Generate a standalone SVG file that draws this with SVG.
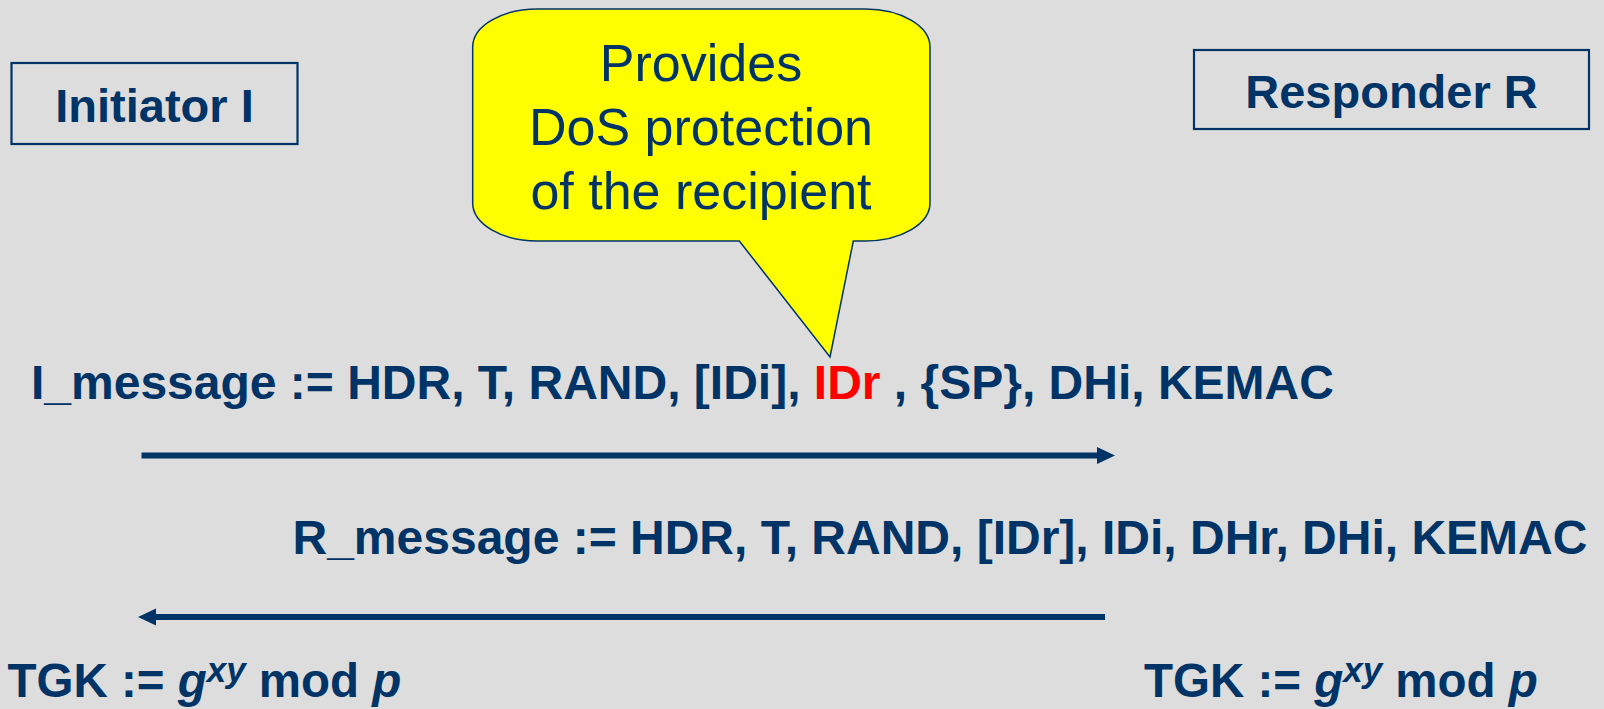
<svg xmlns="http://www.w3.org/2000/svg" width="1604" height="709" viewBox="0 0 1604 709">
<style>
.t{font-family:"Liberation Sans",Arial,sans-serif;font-weight:bold;fill:#003366}
.b{font-family:"Liberation Sans",Arial,sans-serif;fill:#003366;font-size:52px}
.box{fill:none;stroke:#003366;stroke-width:2.2}
.arr{stroke:#003366;stroke-width:6;fill:none}
</style>
<defs>
<marker id="ah" markerUnits="userSpaceOnUse" markerWidth="18" markerHeight="18" refX="8" refY="8.5" orient="auto">
<path d="M0,0 L18,8.5 L0,17 Z" fill="#003366"/>
</marker>
</defs>
<rect width="1604" height="709" fill="#DDDDDD"/>
<g id="initiator">
<rect class="box" x="11.5" y="63" width="286" height="81"/>
<text class="t" x="154.5" y="122" font-size="47" text-anchor="middle">Initiator I</text>
</g>
<g id="responder">
<rect class="box" x="1194" y="50" width="395" height="79"/>
<text class="t" x="1391.5" y="107.5" font-size="47" text-anchor="middle">Responder R</text>
</g>
<g id="callout">
<path d="M537.7,9 H865 A65,38 0 0 1 930,47 V203 A65,38 0 0 1 865,241 H853.3 L830,357 L739.3,241 H537.7 A65,38 0 0 1 472.7,203 V47 A65,38 0 0 1 537.7,9 Z" fill="#FFFF00" stroke="#003366" stroke-width="1.5"/>
<text class="b" text-anchor="middle"><tspan x="701" y="81">Provides</tspan><tspan x="701" y="145">DoS protection</tspan><tspan x="701" y="209">of the recipient</tspan></text>
</g>
<g id="i_message">
<text class="t" x="31" y="398.5" font-size="48" xml:space="preserve">I_message := HDR, T, RAND, [IDi], <tspan fill="#FF0000">IDr</tspan> , {SP}, DHi, KEMAC</text>
</g>
<g id="r_message">
<text class="t" x="292.5" y="554" font-size="48" xml:space="preserve">R_message := HDR, T, RAND, [IDr], IDi, DHr, DHi, KEMAC</text>
</g>
<g id="tgk_i">
<text class="t" x="7.5" y="696.5" font-size="47.5">TGK := <tspan font-style="italic">g</tspan><tspan font-style="italic" font-size="35" dy="-15">xy</tspan><tspan dy="15"> mod </tspan><tspan font-style="italic">p</tspan></text>
</g>
<g id="tgk_r">
<text class="t" x="1144" y="696.5" font-size="47.5">TGK := <tspan font-style="italic">g</tspan><tspan font-style="italic" font-size="35" dy="-15">xy</tspan><tspan dy="15"> mod </tspan><tspan font-style="italic">p</tspan></text>
</g>
<g id="connectors">
<line class="arr" x1="141.5" y1="455.5" x2="1105" y2="455.5" marker-end="url(#ah)"/>
<line class="arr" x1="1105" y1="617" x2="148" y2="617" marker-end="url(#ah)"/>
</g>
</svg>
